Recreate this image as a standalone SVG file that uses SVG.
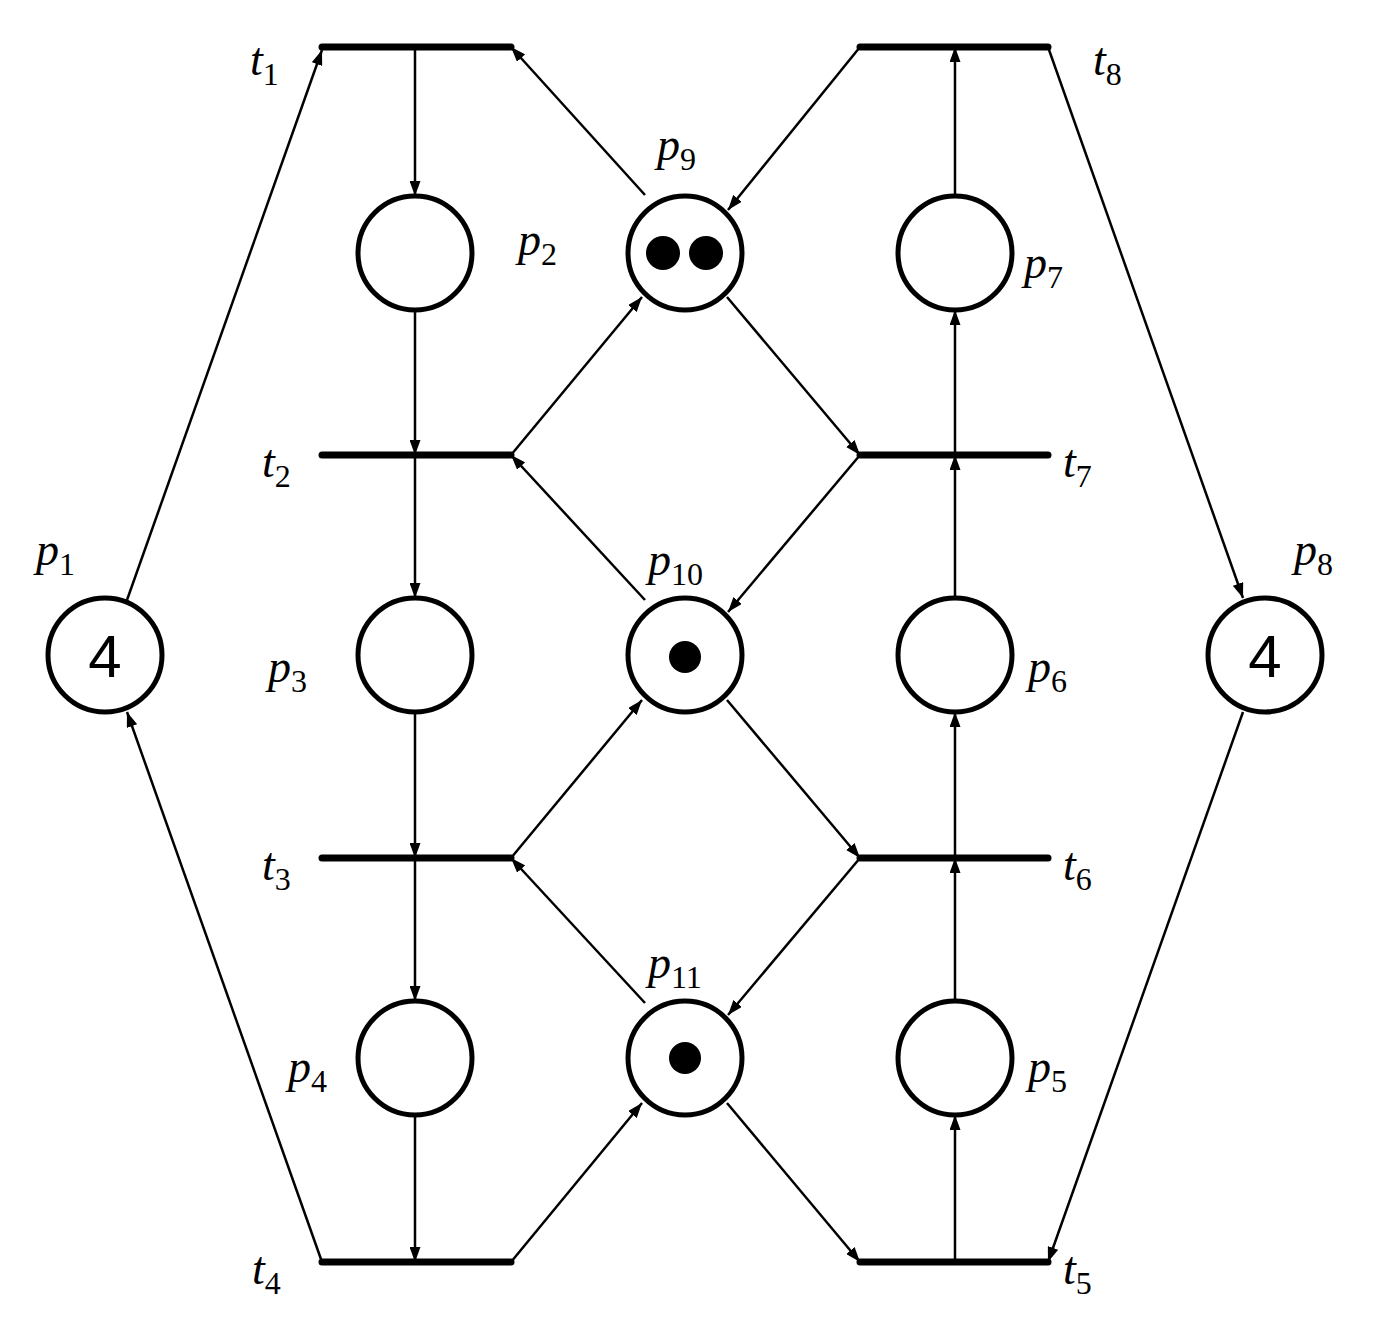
<svg xmlns="http://www.w3.org/2000/svg" width="1375" height="1329" viewBox="0 0 1375 1329">
<style>
.pl{fill:#fff;stroke:#000;stroke-width:5}
.tr{stroke:#000;stroke-width:7;stroke-linecap:round}
.arc{stroke:#000;stroke-width:2.5;fill:none;marker-end:url(#ah)}
.lb{font-family:"Liberation Serif",serif;font-style:italic;font-size:46px}
.sb{font-style:normal;font-size:32px}
.tk{fill:#000}
.n{font-family:"Liberation Sans",sans-serif;font-size:60px;text-anchor:middle}
</style>
<defs><marker id="ah" markerUnits="userSpaceOnUse" markerWidth="15" markerHeight="11" refX="15" refY="5.5" orient="auto"><path d="M0,0 L15,5.5 L0,11 z"/></marker></defs>
<g id="connectors">
<line class="arc" x1="127" y1="600" x2="322" y2="50"/>
<line class="arc" x1="322" y1="1262" x2="127" y2="712"/>
<line class="arc" x1="415" y1="47" x2="415" y2="196"/>
<line class="arc" x1="415" y1="310" x2="415" y2="455"/>
<line class="arc" x1="415" y1="455" x2="415" y2="598"/>
<line class="arc" x1="415" y1="712" x2="415" y2="858"/>
<line class="arc" x1="415" y1="858" x2="415" y2="1001"/>
<line class="arc" x1="415" y1="1115" x2="415" y2="1262"/>
<line class="arc" x1="645" y1="195" x2="511" y2="47"/>
<line class="arc" x1="860" y1="47" x2="728" y2="210"/>
<line class="arc" x1="511" y1="455" x2="642" y2="297"/>
<line class="arc" x1="727" y1="297" x2="860" y2="455"/>
<line class="arc" x1="645" y1="600" x2="511" y2="455"/>
<line class="arc" x1="860" y1="455" x2="728" y2="612"/>
<line class="arc" x1="511" y1="858" x2="642" y2="700"/>
<line class="arc" x1="727" y1="700" x2="860" y2="858"/>
<line class="arc" x1="645" y1="1003" x2="511" y2="858"/>
<line class="arc" x1="860" y1="858" x2="728" y2="1015"/>
<line class="arc" x1="511" y1="1262" x2="642" y2="1103"/>
<line class="arc" x1="727" y1="1103" x2="860" y2="1262"/>
<line class="arc" x1="955" y1="1262" x2="955" y2="1115"/>
<line class="arc" x1="955" y1="1001" x2="955" y2="858"/>
<line class="arc" x1="955" y1="858" x2="955" y2="712"/>
<line class="arc" x1="955" y1="598" x2="955" y2="455"/>
<line class="arc" x1="955" y1="455" x2="955" y2="310"/>
<line class="arc" x1="955" y1="196" x2="955" y2="47"/>
<line class="arc" x1="1048" y1="47" x2="1243" y2="598"/>
<line class="arc" x1="1243" y1="712" x2="1048" y2="1262"/>
</g>
<g id="t1"><line class="tr" x1="322" y1="47" x2="511" y2="47"/><text class="lb" x="250" y="75">t<tspan class="sb" dy="10">1</tspan></text></g>
<g id="t2"><line class="tr" x1="322" y1="455" x2="511" y2="455"/><text class="lb" x="262" y="477">t<tspan class="sb" dy="10">2</tspan></text></g>
<g id="t3"><line class="tr" x1="322" y1="858" x2="511" y2="858"/><text class="lb" x="262" y="880">t<tspan class="sb" dy="10">3</tspan></text></g>
<g id="t4"><line class="tr" x1="322" y1="1262" x2="511" y2="1262"/><text class="lb" x="252" y="1284">t<tspan class="sb" dy="10">4</tspan></text></g>
<g id="t5"><line class="tr" x1="860" y1="1262" x2="1048" y2="1262"/><text class="lb" x="1063" y="1284">t<tspan class="sb" dy="10">5</tspan></text></g>
<g id="t6"><line class="tr" x1="860" y1="858" x2="1048" y2="858"/><text class="lb" x="1063" y="880">t<tspan class="sb" dy="10">6</tspan></text></g>
<g id="t7"><line class="tr" x1="860" y1="455" x2="1048" y2="455"/><text class="lb" x="1063" y="477">t<tspan class="sb" dy="10">7</tspan></text></g>
<g id="t8"><line class="tr" x1="860" y1="47" x2="1048" y2="47"/><text class="lb" x="1093" y="75">t<tspan class="sb" dy="10">8</tspan></text></g>
<g id="p1"><circle class="pl" cx="105" cy="655" r="57"/><text class="n" x="105" y="677">4</text><text class="lb" x="36" y="565">p<tspan class="sb" dy="10">1</tspan></text></g>
<g id="p2"><circle class="pl" cx="415" cy="253" r="57"/><text class="lb" x="518" y="255">p<tspan class="sb" dy="10">2</tspan></text></g>
<g id="p3"><circle class="pl" cx="415" cy="655" r="57"/><text class="lb" x="268" y="682">p<tspan class="sb" dy="10">3</tspan></text></g>
<g id="p4"><circle class="pl" cx="415" cy="1058" r="57"/><text class="lb" x="288" y="1082">p<tspan class="sb" dy="10">4</tspan></text></g>
<g id="p5"><circle class="pl" cx="955" cy="1058" r="57"/><text class="lb" x="1028" y="1082">p<tspan class="sb" dy="10">5</tspan></text></g>
<g id="p6"><circle class="pl" cx="955" cy="655" r="57"/><text class="lb" x="1028" y="682">p<tspan class="sb" dy="10">6</tspan></text></g>
<g id="p7"><circle class="pl" cx="955" cy="253" r="57"/><text class="lb" x="1024" y="278">p<tspan class="sb" dy="10">7</tspan></text></g>
<g id="p8"><circle class="pl" cx="1265" cy="655" r="57"/><text class="n" x="1265" y="677">4</text><text class="lb" x="1294" y="565">p<tspan class="sb" dy="10">8</tspan></text></g>
<g id="p9"><circle class="pl" cx="685" cy="253" r="57"/><circle class="tk" cx="663" cy="253" r="17"/><circle class="tk" cx="706" cy="253" r="17"/><text class="lb" x="657" y="160">p<tspan class="sb" dy="10">9</tspan></text></g>
<g id="p10"><circle class="pl" cx="685" cy="655" r="57"/><circle class="tk" cx="685" cy="657" r="16"/><text class="lb" x="648" y="575">p<tspan class="sb" dy="10">10</tspan></text></g>
<g id="p11"><circle class="pl" cx="685" cy="1058" r="57"/><circle class="tk" cx="685" cy="1058" r="16"/><text class="lb" x="648" y="978">p<tspan class="sb" dy="10">11</tspan></text></g>
</svg>
